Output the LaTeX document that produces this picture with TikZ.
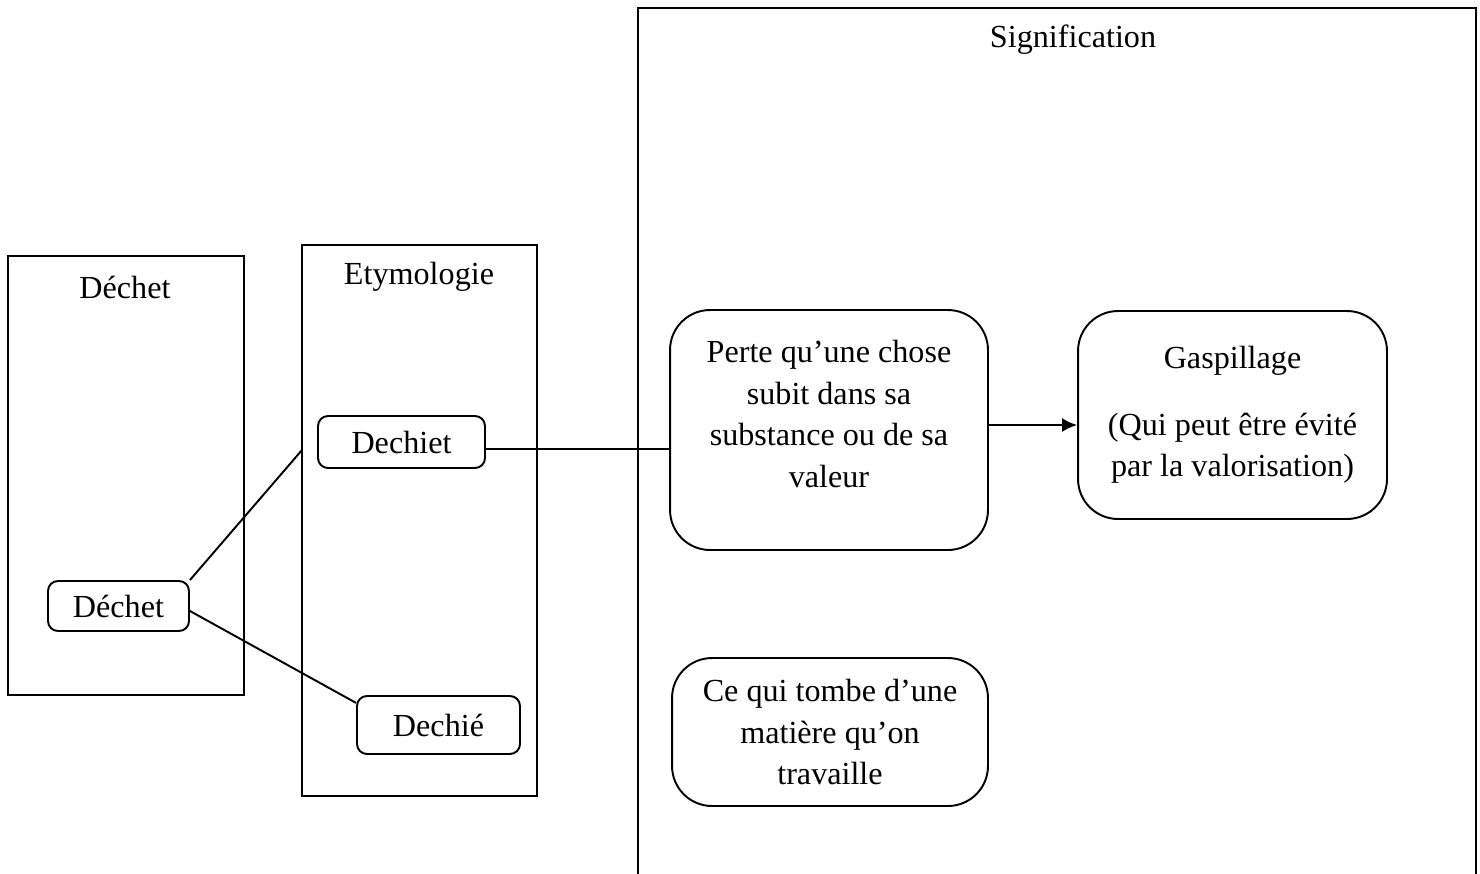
\documentclass[tikz,border=0pt]{standalone}
\usepackage{fontspec}
\setmainfont{Liberation Serif}
\usetikzlibrary{arrows.meta}
\usetikzlibrary{positioning}

\begin{document}
\begin{tikzpicture}[x=0.02cm, y=-0.02cm, line width=1.1pt,
    every node/.style={font=\fontsize{18.3}{23.6}\selectfont},
    column/.style={draw, rectangle},
    smallbox/.style={draw, rectangle, rounded corners=0.2cm},
    bigbox/.style={draw, rectangle, rounded corners=0.8cm, align=center}]
  \useasboundingbox (0,0) rectangle (1480,873);
  \clip (0,0) rectangle (1480,873);

  % the three columns
  \node [column, minimum width=4.72cm, minimum height=8.78cm] (DechetCol) at (126,475.5) {};
  \node [column, minimum width=4.70cm, minimum height=11.02cm] (EtymCol) at (419.5,520.5) {};
  \draw (638,890) -- (638,8) -- (1476,8) -- (1476,890);

  \node (DechetTitle) at (125,287) {Déchet};
  \node (EtymTitle)   at (419,277) {Etymologie};
  \node (SignTitle)   at (1073,40) {Signification};

  % words
  \node [smallbox, minimum width=2.82cm, minimum height=1cm] (Dechet) at (118.5,606) {Déchet};
  \node [smallbox, minimum width=3.34cm, minimum height=1.04cm] (Dechiet) at (401.5,442) {Dechiet};
  \node [smallbox, minimum width=3.26cm, minimum height=1.16cm] (Dechie) at (438.5,725) {Dechié};

  % meanings
  \node [bigbox, minimum width=6.36cm, minimum height=4.8cm, text depth=0.65cm] (Perte) at (829,430)
    {Perte qu’une chose\\subit dans sa\\substance ou de sa\\valeur};
  \node [bigbox, minimum width=6.18cm, minimum height=4.16cm] (Gaspi) at (1232.5,415)
    {Gaspillage\\[0.5cm](Qui peut être évité\\par la valorisation)};
  \node [bigbox, minimum width=6.32cm, minimum height=2.96cm] (Tombe) at (830,732)
    {Ce qui tombe d’une\\matière qu’on\\travaille};

  \coordinate (EtymIn) at (302,450);

  \draw (Dechet.north east) -- (EtymIn);
  \draw (Dechet.356) -- (Dechie.165);
  \draw (Dechiet.east |- 0,449) -- (Perte.west |- 0,449);
  \draw [-{Latex[length=0.3cm,width=0.28cm]}] (Perte.east |- 0,425) -- (Gaspi.west |- 0,425);
\end{tikzpicture}
\end{document}
